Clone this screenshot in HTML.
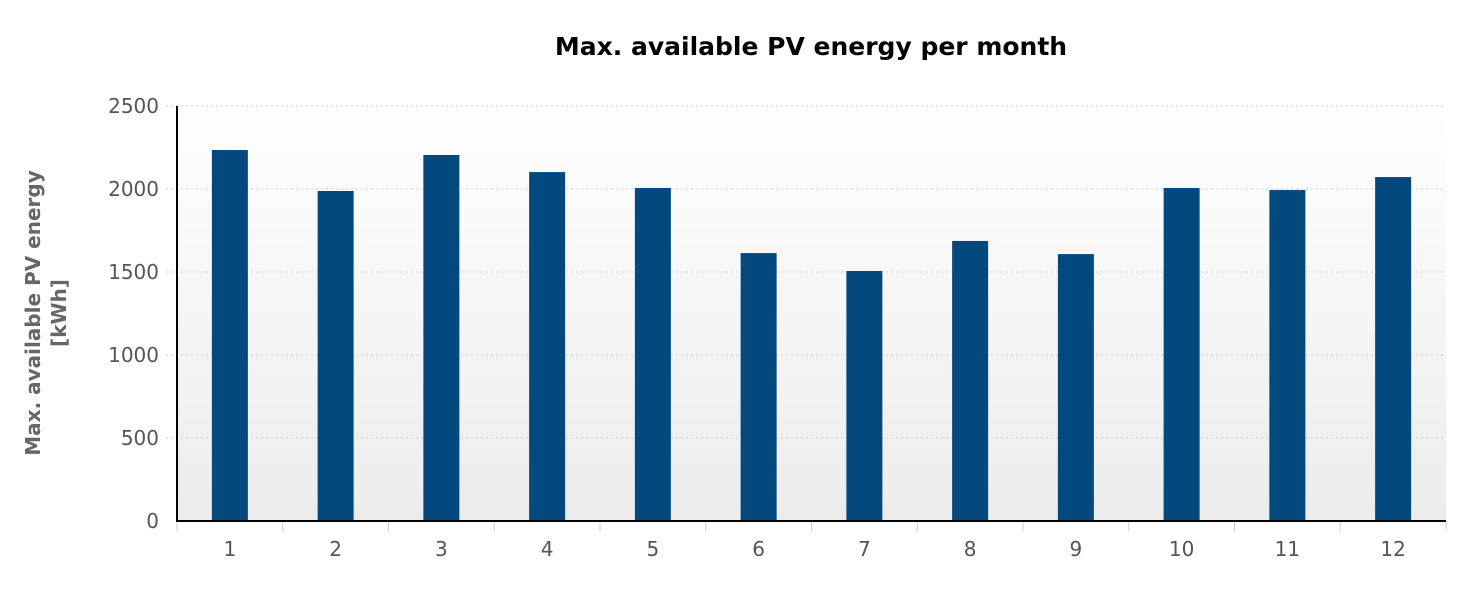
<!DOCTYPE html>
<html><head><meta charset="utf-8"><style>
body{margin:0;background:#fff;}
svg text{font-family:"DejaVu Sans","Liberation Sans",sans-serif;}
</style></head><body>
<svg id="chart" width="1468" height="591" xmlns="http://www.w3.org/2000/svg">
<defs><linearGradient id="bg" x1="0" y1="0" x2="0" y2="1"><stop offset="0" stop-color="#ffffff"/><stop offset="1" stop-color="#ececec"/></linearGradient></defs>
<text x="811" y="55" text-anchor="middle" font-size="25" font-weight="bold" fill="#000">Max. available PV energy per month</text>
<rect x="177" y="106" width="1269" height="415" fill="url(#bg)"/>
<g id="grid"></g><g id="bars"></g><g id="axes"></g>
<text transform="translate(40,313) rotate(-90)" text-anchor="middle" font-size="20" font-weight="bold" fill="#666">Max. available PV energy</text>
<text transform="translate(66,313) rotate(-90)" text-anchor="middle" font-size="20" font-weight="bold" fill="#666">[kWh]</text>
</svg>
<script>
const categories=["1","2","3","4","5","6","7","8","9","10","11","12"];
const values=[2235,1988,2205,2102,2006,1614,1506,1687,1608,2006,1994,2072];
const yTicks=[0,500,1000,1500,2000,2500];
const NS="http://www.w3.org/2000/svg";
const x0=177,x1=1446,y0=521,y1=106,yMax=2500;
const y=v=>y0-(v/yMax)*(y0-y1);
const band=(x1-x0)/categories.length;
const xc=i=>x0+band*(i+0.5);
function mk(t,a,p){const e=document.createElementNS(NS,t);for(const k in a)e.setAttribute(k,a[k]);p.appendChild(e);return e;}
const grid=document.getElementById('grid'),bars=document.getElementById('bars'),axes=document.getElementById('axes');
yTicks.forEach(v=>{
 if(v>0){const l=mk('line',{x1:166,x2:x1,y1:y(v),y2:y(v),stroke:'#c8c8c8','stroke-dasharray':'2,3'},grid);
 
 }
 const t=mk('text',{x:159,y:y(v)+7,'text-anchor':'end','font-size':20,fill:'#555'},axes);t.textContent=v;
 
 
});
values.forEach((v,i)=>{
 const r=mk('rect',{x:xc(i)-18,y:y(v),width:36,height:y0-y(v),fill:'#03497d'},bars);
 
 
 const t=mk('text',{x:xc(i),y:556,'text-anchor':'middle','font-size':20,fill:'#555'},axes);t.textContent=categories[i];
 
 
});
for(let i=0;i<=categories.length;i++){const xx=x0+band*i;const l=mk('line',{x1:xx,x2:xx,y1:y0,y2:y0+10,stroke:'#ccc'},axes);
 
 }
const ya=mk('line',{x1:x0,x2:x0,y1:y1,y2:y0,stroke:'#000','stroke-width':2},axes);


const xa=mk('line',{x1:x0-1,x2:x1,y1:y0,y2:y0,stroke:'#000','stroke-width':2},axes);


</script>
</body></html>
